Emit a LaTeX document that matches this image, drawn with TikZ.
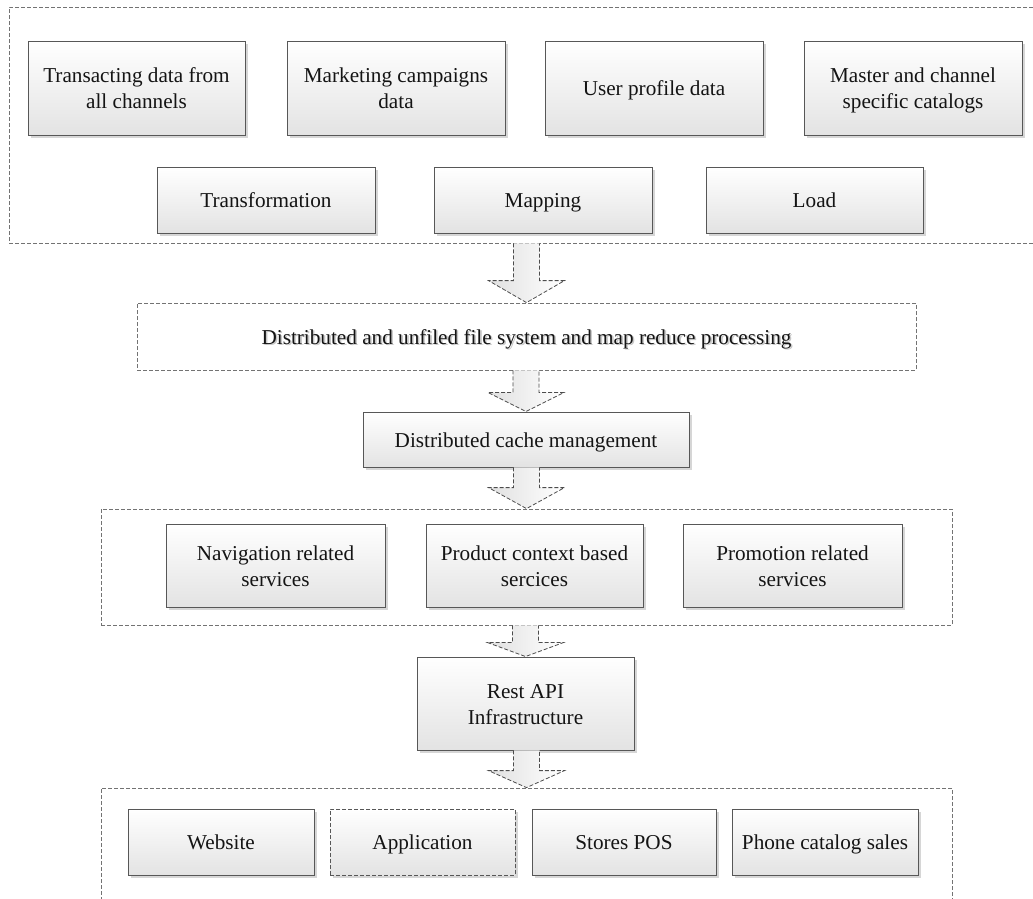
\documentclass[tikz,border=0pt]{standalone}
\usepackage{fontspec}
\setmainfont{Liberation Serif}
\usetikzlibrary{shadows,calc}
\begin{document}
\begin{tikzpicture}[x=0.75pt,y=-0.75pt,
  rect/.style args={#1/#2/#3/#4}{at={({(#1+#3)/2},{(#2+#4)/2})},
    minimum width={(#3-#1)*0.75pt}, minimum height={(#4-#2)*0.75pt}},
  txt/.style={font=\fontsize{15.9}{19.5}\selectfont, text=black!92, align=center,
    execute at begin node=\rule{0pt}{17.5pt}, execute at end node=\rule[-5.85pt]{0pt}{0pt}},
  two/.style={execute at begin node=\rule{0pt}{37pt}},
  box/.style={txt, draw=black!66, line width=0.7pt, top color=white, bottom color=black!11,
    drop shadow={shadow xshift=2.2pt, shadow yshift=-2.2pt, fill=black!16, opacity=1},
    inner sep=0pt},
  dbox/.style={box, dash pattern=on 3pt off 1.5pt},
  frame/.style={draw=black!55, line width=0.6pt, dash pattern=on 3pt off 1.5pt, inner sep=0pt},
  blk/.style={draw=black!70, line width=0.6pt, dash pattern=on 3pt off 1.5pt, left color=black!12, right color=white}
]
\useasboundingbox (0,0) rectangle (1033,899);
\clip (0,0) rectangle (1033,899);
\fill[white] (0,0) rectangle (1033,899);

% frames
\node[frame, rect=9/7/1045/243] (f1) {};
\node[frame, rect=101/509/952/625] (f2) {};
\node[frame, rect=101/788/952/915] (f3) {};

% top sources
\node[box, two, rect=28/41/245/135] (t1) {Transacting data from\\all channels};
\node[box, two, rect=287/41/505/135] (t2) {Marketing campaigns\\data};
\node[box, rect=545/41/763/135] (t3) {User profile data};
\node[box, two, rect=804/41/1022/135] (t4) {Master and channel\\specific catalogs};
\node[box, rect=157/167/375/233] (tr) {Transformation};
\node[box, rect=434/167/652/233] (mp) {Mapping};
\node[box, rect=706/167/923/233] (ld) {Load};

% processing
\node[frame, rect=137/303/916/370] (dist) {};
\node[txt, text=black!22] (distsh) at ($(dist.center)+(1.6,1.6)$) {Distributed and unfiled file system and map reduce processing};
\node[txt] (distt) at (dist.center) {Distributed and unfiled file system and map reduce processing};
\node[box, rect=363/412/689/467] (cache) {Distributed cache management};

% services
\node[box, two, rect=166/524/385/607] (nav) {Navigation related\\services};
\node[box, two, rect=426/524/643/607] (prod) {Product context based\\sercices};
\node[box, two, rect=683/524/902/607] (promo) {Promotion related\\services};

\node[box, two, rect=417/657/634/750] (api) {Rest API\\Infrastructure};

% channels
\node[box, rect=128/809/314/875] (web) {Website};
\node[dbox, rect=330/809/515/875] (app) {Application};
\node[box, rect=532/809/716/875] (pos) {Stores POS};
\node[box, rect=732/809/918/875] (phone) {Phone catalog sales};

% block arrows
\newcommand\blockarrow[3]{%
  \path[blk] let \p1=(#1.south), \p2=(#2.north) in
    (\x2-9.75pt,\y1) -- (\x2-9.75pt,\y2+#3) -- (\x2-28.5pt,\y2+#3) -- (\x2,\y2)
    -- (\x2+28.5pt,\y2+#3) -- (\x2+9.75pt,\y2+#3) -- (\x2+9.75pt,\y1);}
\blockarrow{f1}{dist}{16.5pt}
\blockarrow{dist}{cache}{14.25pt}
\blockarrow{cache}{f2}{15.75pt}
\blockarrow{f2}{api}{10.5pt}
\blockarrow{api}{f3}{12.75pt}
\end{tikzpicture}
\end{document}
